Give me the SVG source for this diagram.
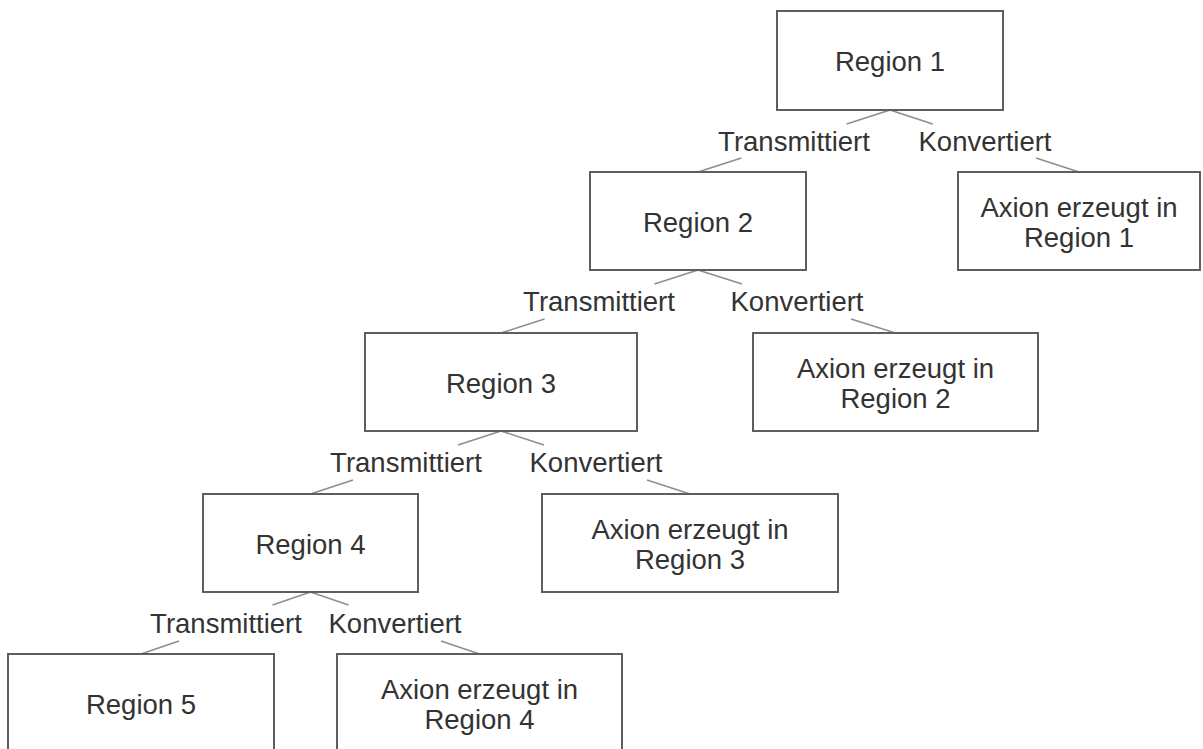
<svg xmlns="http://www.w3.org/2000/svg" width="1203" height="749" viewBox="0 0 1203 749">
<style>
.box{fill:#fff;stroke:#5e5e5e;stroke-width:2}
.t{font-family:"Liberation Sans",Arial,sans-serif;font-size:27.5px;fill:#333;text-anchor:middle}
.c{fill:none;stroke:#8e8e8e;stroke-width:1.6}
</style>
<rect width="1203" height="749" fill="#fff"/>
<g id="connectors">
<path class="c" d="M890 110 L846.6 124 M741.4 158 L698 172"/>
<path class="c" d="M890 110 L932.7 124 M1036 158 L1079 172"/>
<path class="c" d="M698 270 L654.5 284 M544.5 319 L501 333"/>
<path class="c" d="M698 270 L742 284 M851 319 L895.5 333"/>
<path class="c" d="M501 431 L458 445 M353 480 L310.5 494"/>
<path class="c" d="M501 431 L544 445 M647 480 L690 494"/>
<path class="c" d="M310.5 592 L272.5 605 M179 641 L141 654"/>
<path class="c" d="M310.5 592 L348.5 605 M441 641 L479.5 654"/>
<text class="t" x="794" y="151">Transmittiert</text>
<text class="t" x="985" y="151">Konvertiert</text>
<text class="t" x="599" y="311">Transmittiert</text>
<text class="t" x="797" y="311">Konvertiert</text>
<text class="t" x="406" y="472">Transmittiert</text>
<text class="t" x="596" y="472">Konvertiert</text>
<text class="t" x="226" y="633">Transmittiert</text>
<text class="t" x="395" y="633">Konvertiert</text>
</g>
<g id="n1"><rect class="box" x="777" y="11" width="226" height="99"/><text class="t" x="890" y="71">Region 1</text></g>
<g id="a1"><rect class="box" x="958" y="172" width="242" height="98"/><text class="t" x="1079" y="216.5">Axion erzeugt in</text><text class="t" x="1079" y="246.5">Region 1</text></g>
<g id="n2"><rect class="box" x="590" y="172" width="216" height="98"/><text class="t" x="698" y="231.5">Region 2</text></g>
<g id="n3"><rect class="box" x="365" y="333" width="272" height="98"/><text class="t" x="501" y="392.5">Region 3</text></g>
<g id="a2"><rect class="box" x="753" y="333" width="285" height="98"/><text class="t" x="895.5" y="377.5">Axion erzeugt in</text><text class="t" x="895.5" y="407.5">Region 2</text></g>
<g id="n4"><rect class="box" x="203" y="494" width="215" height="98"/><text class="t" x="310.5" y="553.5">Region 4</text></g>
<g id="a3"><rect class="box" x="542" y="494" width="296" height="98"/><text class="t" x="690" y="538.5">Axion erzeugt in</text><text class="t" x="690" y="568.5">Region 3</text></g>
<g id="n5"><rect class="box" x="8" y="654" width="266" height="110"/><text class="t" x="141" y="713.5">Region 5</text></g>
<g id="a4"><rect class="box" x="337" y="654" width="285" height="110"/><text class="t" x="479.5" y="698.5">Axion erzeugt in</text><text class="t" x="479.5" y="728.5">Region 4</text></g>
</svg>
